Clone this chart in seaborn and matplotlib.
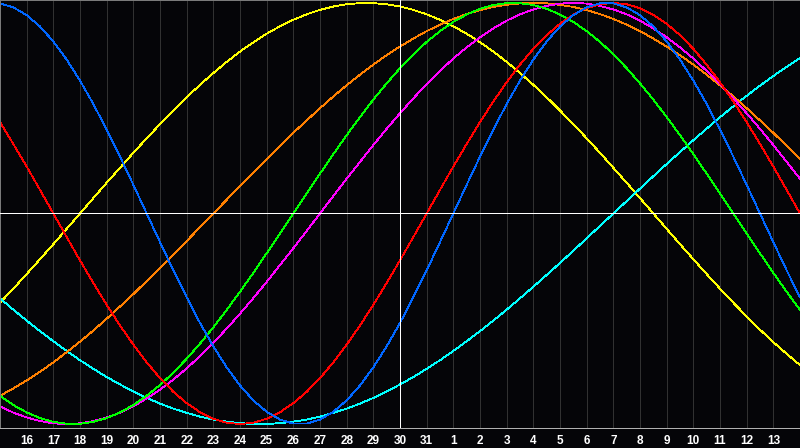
import numpy as np
import pandas as pd
import matplotlib
matplotlib.use('Agg')
import matplotlib.pyplot as plt
import seaborn as sns

# day labels along the bottom, one per gridline (15th .. 14th of next month)
days = [15, 16, 17, 18, 19, 20, 21, 22, 23, 24, 25, 26, 27, 28, 29, 30, 31,
        1, 2, 3, 4, 5, 6, 7, 8, 9, 10, 11, 12, 13, 14]
today = 30

# curve values every half day (-1 = bottom, 1 = top)
yellow = [-0.424, -0.357, -0.288, -0.217, -0.146, -0.073, 0.000, 0.073, 0.146, 0.217,
          0.288, 0.357, 0.424, 0.489, 0.552, 0.611, 0.667, 0.720, 0.769, 0.813,
          0.854, 0.889, 0.920, 0.946, 0.967, 0.983, 0.994, 0.999, 0.999, 0.994,
          0.983, 0.967, 0.946, 0.920, 0.889, 0.854, 0.813, 0.769, 0.720, 0.667,
          0.611, 0.552, 0.489, 0.424, 0.357, 0.288, 0.217, 0.146, 0.073, 0.000,
          -0.073, -0.146, -0.217, -0.288, -0.357, -0.424, -0.489, -0.552, -0.611, -0.667,
          -0.720]
cyan = [-0.403, -0.457, -0.509, -0.559, -0.607, -0.653, -0.697, -0.738, -0.777, -0.812,
        -0.846, -0.876, -0.903, -0.927, -0.947, -0.965, -0.979, -0.989, -0.996, -1.000,
        -1.000, -0.996, -0.989, -0.979, -0.965, -0.947, -0.927, -0.903, -0.876, -0.846,
        -0.812, -0.777, -0.738, -0.697, -0.653, -0.607, -0.559, -0.509, -0.457, -0.403,
        -0.348, -0.292, -0.235, -0.177, -0.118, -0.059, 0.000, 0.059, 0.118, 0.177,
        0.235, 0.292, 0.348, 0.403, 0.457, 0.509, 0.559, 0.607, 0.653, 0.697,
        0.738]
orange = [-0.866, -0.831, -0.793, -0.752, -0.707, -0.659, -0.609, -0.556, -0.500, -0.442,
          -0.383, -0.321, -0.259, -0.195, -0.131, -0.065, 0.000, 0.065, 0.131, 0.195,
          0.259, 0.321, 0.383, 0.442, 0.500, 0.556, 0.609, 0.659, 0.707, 0.752,
          0.793, 0.831, 0.866, 0.897, 0.924, 0.947, 0.966, 0.981, 0.991, 0.998,
          1.000, 0.998, 0.991, 0.981, 0.966, 0.947, 0.924, 0.897, 0.866, 0.831,
          0.793, 0.752, 0.707, 0.659, 0.609, 0.556, 0.500, 0.442, 0.383, 0.321,
          0.259]
magenta = [-0.916, -0.946, -0.969, -0.986, -0.997, -1.000, -0.997, -0.986, -0.969, -0.946,
           -0.916, -0.879, -0.837, -0.789, -0.736, -0.677, -0.614, -0.547, -0.476, -0.402,
           -0.325, -0.245, -0.165, -0.083, 0.000, 0.083, 0.165, 0.245, 0.325, 0.402,
           0.476, 0.547, 0.614, 0.677, 0.736, 0.789, 0.837, 0.879, 0.916, 0.946,
           0.969, 0.986, 0.997, 1.000, 0.997, 0.986, 0.969, 0.946, 0.916, 0.879,
           0.837, 0.789, 0.736, 0.677, 0.614, 0.547, 0.476, 0.402, 0.325, 0.245,
           0.165]
green = [-0.866, -0.910, -0.945, -0.972, -0.990, -0.999, -0.999, -0.990, -0.972, -0.945,
         -0.910, -0.866, -0.815, -0.756, -0.690, -0.618, -0.541, -0.458, -0.372, -0.282,
         -0.189, -0.095, 0.000, 0.095, 0.189, 0.282, 0.372, 0.458, 0.541, 0.618,
         0.690, 0.756, 0.815, 0.866, 0.910, 0.945, 0.972, 0.990, 0.999, 0.999,
         0.990, 0.972, 0.945, 0.910, 0.866, 0.815, 0.756, 0.690, 0.618, 0.541,
         0.458, 0.372, 0.282, 0.189, 0.095, 0.000, -0.095, -0.189, -0.282, -0.372,
         -0.458]
red = [0.434, 0.330, 0.223, 0.112, 0.000, -0.112, -0.223, -0.330, -0.434, -0.532,
       -0.623, -0.707, -0.782, -0.847, -0.901, -0.944, -0.975, -0.994, -1.000, -0.994,
       -0.975, -0.944, -0.901, -0.847, -0.782, -0.707, -0.623, -0.532, -0.434, -0.330,
       -0.223, -0.112, 0.000, 0.112, 0.223, 0.330, 0.434, 0.532, 0.623, 0.707,
       0.782, 0.847, 0.901, 0.944, 0.975, 0.994, 1.000, 0.994, 0.975, 0.944,
       0.901, 0.847, 0.782, 0.707, 0.623, 0.532, 0.434, 0.330, 0.223, 0.112,
       0.000]
blue = [0.998, 0.979, 0.942, 0.888, 0.817, 0.731, 0.631, 0.520, 0.398, 0.270,
        0.136, 0.000, -0.136, -0.270, -0.398, -0.520, -0.631, -0.731, -0.817, -0.888,
        -0.942, -0.979, -0.998, -0.998, -0.979, -0.942, -0.888, -0.817, -0.731, -0.631,
        -0.520, -0.398, -0.270, -0.136, 0.000, 0.136, 0.270, 0.398, 0.520, 0.631,
        0.731, 0.817, 0.888, 0.942, 0.979, 0.998, 0.998, 0.979, 0.942, 0.888,
        0.817, 0.731, 0.631, 0.520, 0.398, 0.270, 0.136, 0.000, -0.136, -0.270,
        -0.398]

series = {'yellow': yellow, 'cyan': cyan, 'orange': orange, 'magenta': magenta,
          'green': green, 'red': red, 'blue': blue}
colors = {'yellow': '#ffff00', 'cyan': '#00ffff', 'orange': '#ff8000',
          'magenta': '#ff00ff', 'green': '#00ff00', 'red': '#ff0000',
          'blue': '#0066ff'}

# long form: half-day steps along the day axis
steps = np.arange(2 * len(days) - 1) / 2
df = pd.concat([pd.DataFrame({'idx': steps, 'value': vals, 'cycle': name})
                for name, vals in series.items()], ignore_index=True)

sns.set_style('dark')
plt.rcParams['font.family'] = ['Liberation Sans', 'DejaVu Sans']

fig = plt.figure(figsize=(8, 4.48), dpi=100, facecolor='#050508')
ax = fig.add_axes([0, 20 / 448, 1, 428 / 448])
ax.set_facecolor('#050508')

ax.set_xticks(range(len(days)))
ax.set_xticklabels([''] + [str(d) for d in days[1:-1]] + [''])
ax.grid(axis='x', color='#3a3a3a', linewidth=0.6)
ax.grid(axis='y', visible=False)
ax.set_axisbelow(True)

sns.lineplot(data=df, x='idx', y='value', hue='cycle', palette=colors,
             ax=ax, legend=False, linewidth=0.6, antialiased=False)

# zero line and "today" marker sit on top of the curves
ax.axhline(0, color='white', linewidth=0.72, zorder=3, antialiased=False)
ax.axvline(days.index(today), color='white', linewidth=0.72, zorder=3, antialiased=False)

ax.set_xlim(0, len(days) - 1)
ax.set_ylim(-1.019, 1.014)
ax.set_yticks([])
ax.set_xlabel('')
ax.set_ylabel('')
ax.tick_params(axis='x', length=0, pad=5, labelsize=8.5, labelcolor='white')
for lbl in ax.get_xticklabels():
    lbl.set_fontweight('bold')
for side in ['top', 'left', 'right']:
    ax.spines[side].set_color('#7a7a7a')
    ax.spines[side].set_linewidth(0.72)
ax.spines['bottom'].set_color('#b0b0b0')
ax.spines['bottom'].set_linewidth(0.72)

fig.savefig('out.png', facecolor=fig.get_facecolor())
